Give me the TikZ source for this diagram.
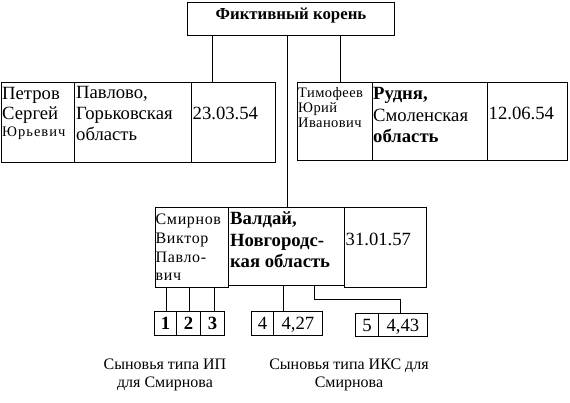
\documentclass[tikz,border=0pt]{standalone}
\usepackage{fontspec}
\setmainfont{Liberation Serif}
\begin{document}
\begin{tikzpicture}[x=1pt,y=-1pt,
  cell/.style={draw, line width=0.9pt, anchor=north west, inner sep=0pt},
  conn/.style={line width=0.9pt},
  tbig/.style={anchor=base west, inner sep=0pt, font=\fontsize{18.67}{21}\selectfont},
  tbold/.style={anchor=base west, inner sep=0pt, font=\fontsize{18.67}{21}\selectfont\bfseries},
  troot/.style={anchor=base, inner sep=0pt, font=\fontsize{16.8}{19}\selectfont\bfseries},
  tsmall/.style={anchor=base west, inner sep=0pt, font=\fontsize{14.5}{16}\selectfont\addfontfeatures{LetterSpace=3}},
  tsmallw/.style={anchor=base west, inner sep=0pt, font=\fontsize{14.5}{16}\selectfont\addfontfeatures{LetterSpace=7}},
  tname/.style={anchor=base west, inner sep=0pt, font=\fontsize{16}{18}\selectfont\addfontfeatures{LetterSpace=4}},
  dg/.style={anchor=base, inner sep=0pt, font=\fontsize{18.67}{21}\selectfont},
  dgb/.style={anchor=base, inner sep=0pt, font=\fontsize{18.67}{21}\selectfont\bfseries},
  captxt/.style={anchor=base, inner sep=0pt, font=\fontsize{16}{19}\selectfont}]
\useasboundingbox (0,0) rectangle (570,403);
% boxes
\node[cell, minimum width=207, minimum height=33] (root) at (187,2) {};
\node[cell, minimum width=73, minimum height=80] (L1) at (1,82) {};
\node[cell, minimum width=117, minimum height=80] (L2) at (74,82) {};
\node[cell, minimum width=84, minimum height=80] (L3) at (191,82) {};
\node[cell, minimum width=75, minimum height=78] (R1) at (297,82) {};
\node[cell, minimum width=115, minimum height=78] (R2) at (372,82) {};
\node[cell, minimum width=80, minimum height=78] (R3) at (487,82) {};
\node[cell, minimum width=73, minimum height=80] (M1) at (155,207) {};
\node[cell, minimum width=116, minimum height=78] (M2) at (228,207) {};
\node[cell, minimum width=82, minimum height=80] (M3) at (344,207) {};
\node[cell, minimum width=22, minimum height=24] (c1) at (154,311) {};
\node[cell, minimum width=24, minimum height=24] (c2) at (176,311) {};
\node[cell, minimum width=24, minimum height=24] (c3) at (200,311) {};
\node[cell, minimum width=22, minimum height=24] (c4) at (251,311) {};
\node[cell, minimum width=49, minimum height=24] (c4b) at (273,311) {};
\node[cell, minimum width=23, minimum height=23.5] (c5) at (355,312.5) {};
\node[cell, minimum width=49, minimum height=23.5] (c5b) at (378,312.5) {};
% texts
\node[troot] (rt) at (291,19.5) {Фиктивный корень};
\node[tbig] (l1a) at (2,100) {Петров};
\node[tbig] (l1b) at (2,120) {Сергей};
\node[tsmallw] (l1c) at (2,137) {Юрьевич};
\node[tbig] (l2a) at (76,99) {Павлово,};
\node[tbig] (l2b) at (76,120) {Горьковская};
\node[tbig] (l2c) at (76,141) {область};
\node[tbig] (l3) at (192.5,120) {23.03.54};
\node[tsmall] (r1a) at (298,98) {Тимофеев};
\node[tsmall] (r1b) at (298,113) {Юрий};
\node[tsmall] (r1c) at (298,128) {Иванович};
\node[tbold] (r2a) at (373,100) {Рудня,};
\node[tbig] (r2b) at (373,121.5) {Смоленская};
\node[tbold] (r2c) at (373,143) {область};
\node[tbig] (r3) at (488.5,120) {12.06.54};
\node[tname] (m1a) at (155.5,225) {Смирнов};
\node[tname] (m1b) at (155.5,243.5) {Виктор};
\node[tname] (m1c) at (155.5,262) {Павло-};
\node[tname] (m1d) at (155.5,280.5) {вич};
\node[tbold] (m2a) at (230,225) {Валдай,};
\node[tbold] (m2b) at (230,246.5) {Новгородс-};
\node[tbold] (m2c) at (230,268) {кая область};
\node[tbig] (m3) at (345.5,246) {31.01.57};
\node[dgb] (t1) at (c1.center |- 0,329.5) {1};
\node[dgb] (t2) at (c2.center |- 0,329.5) {2};
\node[dgb] (t3) at (c3.center |- 0,329.5) {3};
\node[dg] (t4) at (c4.center |- 0,329.5) {4};
\node[dg] (t4b) at (c4b.center |- 0,329.5) {4,27};
\node[dg] (t5) at (c5.center |- 0,331) {5};
\node[dg] (t5b) at (c5b.center |- 0,331) {4,43};
\node[captxt] (capa1) at (165,369) {Сыновья типа ИП};
\node[captxt] (capa2) at (165,387) {для Смирнова};
\node[captxt] (capb1) at (349,369) {Сыновья типа ИКС для};
\node[captxt] (capb2) at (349,387) {Смирнова};
% connectors
\draw[conn] (212,0 |- root.south) -- (212,0 |- L3.north);
\draw[conn] (340,0 |- root.south) -- (340,0 |- R1.north);
\draw[conn] (287,0 |- root.south) -- (287,0 |- M2.north);
\draw[conn] (166.5,0 |- M1.south) -- (166.5,0 |- c1.north);
\draw[conn] (189.5,0 |- M1.south) -- (189.5,0 |- c2.north);
\draw[conn] (214,0 |- M1.south) -- (214,0 |- c3.north);
\draw[conn] (283,0 |- M2.south) -- (283,0 |- c4b.north);
\coordinate (elb) at (400,299);
\draw[conn] (314,0 |- M2.south) |- (elb) -- (elb |- c5b.north);
\end{tikzpicture}
\end{document}
